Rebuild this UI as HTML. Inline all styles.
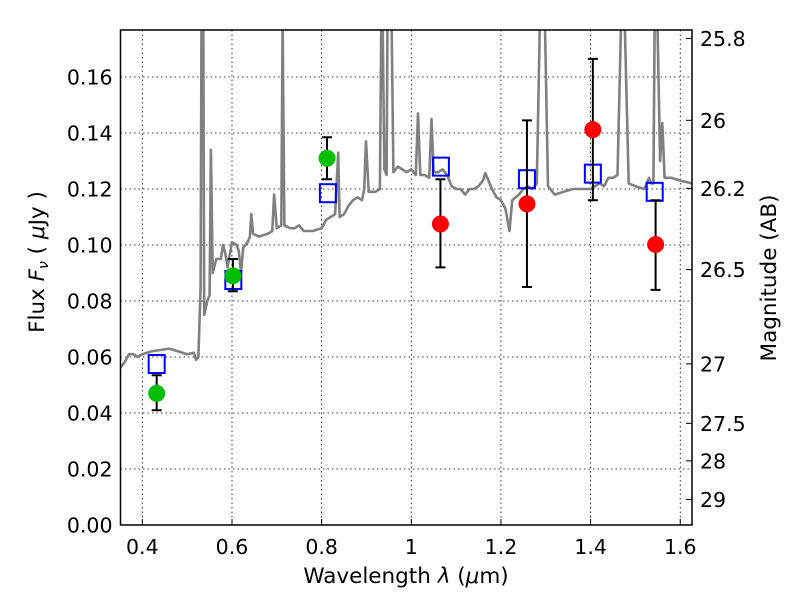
<!DOCTYPE html>
<html><head><meta charset="utf-8"><style>
body{margin:0;background:#fff;}
svg{font-family:"DejaVu Sans","Liberation Sans",sans-serif;}
</style></head><body>
<svg id="chart" width="800" height="600" viewBox="0 0 800 600">
<defs><clipPath id="clip"><rect x="120.5" y="30" width="571.5" height="495"/></clipPath></defs>
<g id="grid"></g>
<g id="spec" clip-path="url(#clip)"></g>
<g id="marks"></g>
<rect x="120.5" y="30" width="571.5" height="495" fill="none" stroke="#000" stroke-width="1.5"/>
<g id="axes" font-size="20.5"></g>
<text x="406" y="583" font-size="21.5" text-anchor="middle">Wavelength  <tspan font-style="italic">λ</tspan> (<tspan font-style="italic">μ</tspan>m)</text>
<text transform="translate(44,262) rotate(-90)" font-size="21.5" text-anchor="middle">Flux  <tspan font-style="italic">F<tspan font-size="14" dy="4">ν</tspan></tspan><tspan dy="-4">  ( </tspan><tspan font-style="italic">μ</tspan>Jy )</text>
<text transform="translate(776,278) rotate(-90)" font-size="21.5" text-anchor="middle">Magnitude (AB)</text>
</svg>
<script>
const specWave=[0.35,0.36,0.37,0.38,0.39,0.40,0.42,0.44,0.46,0.48,0.50,0.515,0.52,0.525,0.53,0.532,0.536,0.538,0.545,0.55,0.553,0.557,0.565,0.575,0.58,0.585,0.59,0.60,0.61,0.615,0.62,0.625,0.635,0.64,0.643,0.647,0.66,0.68,0.69,0.694,0.70,0.71,0.713,0.717,0.73,0.74,0.75,0.76,0.78,0.80,0.81,0.82,0.83,0.837,0.84,0.85,0.86,0.87,0.88,0.89,0.895,0.899,0.905,0.92,0.93,0.933,0.936,0.94,0.945,0.947,0.951,0.956,0.96,0.97,0.98,0.99,1.0,1.01,1.015,1.02,1.03,1.04,1.045,1.05,1.06,1.07,1.08,1.09,1.10,1.11,1.12,1.13,1.14,1.15,1.16,1.165,1.18,1.19,1.20,1.21,1.219,1.225,1.24,1.25,1.26,1.27,1.28,1.287,1.298,1.305,1.32,1.34,1.36,1.38,1.40,1.42,1.43,1.44,1.45,1.46,1.468,1.476,1.485,1.50,1.52,1.53,1.535,1.54,1.543,1.549,1.555,1.56,1.565,1.58,1.60,1.626];
const specFlux=[0.056,0.058,0.061,0.061,0.060,0.061,0.062,0.0625,0.063,0.062,0.061,0.0615,0.059,0.060,0.085,0.18,0.18,0.075,0.080,0.082,0.134,0.09,0.095,0.095,0.100,0.097,0.092,0.101,0.100,0.098,0.090,0.099,0.101,0.103,0.111,0.104,0.103,0.104,0.105,0.118,0.106,0.107,0.18,0.107,0.106,0.106,0.107,0.105,0.105,0.106,0.109,0.110,0.111,0.133,0.110,0.111,0.114,0.116,0.117,0.116,0.120,0.137,0.119,0.119,0.120,0.18,0.18,0.127,0.125,0.18,0.18,0.18,0.126,0.128,0.127,0.126,0.127,0.125,0.147,0.125,0.125,0.124,0.145,0.126,0.126,0.127,0.125,0.121,0.120,0.120,0.118,0.120,0.120,0.121,0.123,0.1257,0.120,0.117,0.116,0.113,0.105,0.116,0.118,0.120,0.121,0.120,0.122,0.18,0.18,0.121,0.118,0.119,0.120,0.120,0.120,0.122,0.121,0.124,0.124,0.125,0.18,0.18,0.122,0.121,0.120,0.124,0.122,0.122,0.18,0.18,0.130,0.1436,0.124,0.124,0.123,0.122];
const greenWave=[0.432,0.602,0.812];
const greenFlux=[0.047,0.089,0.131];
const greenLo=[0.041,0.0835,0.1235];
const greenHi=[0.0535,0.095,0.1385];
const redWave=[1.065,1.258,1.405,1.545];
const redFlux=[0.1075,0.1147,0.1412,0.1002];
const redLo=[0.092,0.085,0.116,0.084];
const redHi=[0.1235,0.1445,0.1665,0.116];
const modelWave=[0.432,0.603,0.814,1.066,1.258,1.405,1.543];
const modelFlux=[0.0575,0.0875,0.1185,0.128,0.1235,0.1255,0.119];
const xTicks=[0.4,0.6,0.8,1.0,1.2,1.4,1.6];
const xTickLabels=["0.4","0.6","0.8","1","1.2","1.4","1.6"];
const yTicks=[0,0.02,0.04,0.06,0.08,0.10,0.12,0.14,0.16];
const yTickLabels=["0.00","0.02","0.04","0.06","0.08","0.10","0.12","0.14","0.16"];
const magTicks=[25.8,26,26.2,26.5,27,27.5,28,29];
const magTickLabels=["25.8","26","26.2","26.5","27","27.5","28","29"];

const NS="http://www.w3.org/2000/svg";
const X0=120.5,X1=692,Y0=525,Y1=30,XMIN=0.3513,XMAX=1.6262,YMIN=0,YMAX=0.1768;
function sx(v){return X0+(v-XMIN)/(XMAX-XMIN)*(X1-X0);}
function sy(v){return Y0-(v-YMIN)/(YMAX-YMIN)*(Y0-Y1);}
function mk(tag,attrs,parent){const e=document.createElementNS(NS,tag);for(const k in attrs)e.setAttribute(k,attrs[k]);parent.appendChild(e);return e;}
const grid=document.getElementById('grid'),spec=document.getElementById('spec'),marks=document.getElementById('marks'),axes=document.getElementById('axes');

xTicks.forEach((t,i)=>{
  const l=mk('line',{x1:sx(t),x2:sx(t),y1:Y1,y2:Y0,stroke:'#000','stroke-width':0.8,'stroke-dasharray':'1.5,3'},grid);
  
  
  const tk=mk('line',{x1:sx(t),x2:sx(t),y1:Y0,y2:Y0-6,stroke:'#000'},axes);
  
  
  const tx=mk('text',{x:sx(t),y:Y0+29,'text-anchor':'middle'},axes);tx.textContent=xTickLabels[i];
  
  
});
yTicks.forEach((t,i)=>{
  const l=mk('line',{x1:X0,x2:X1,y1:sy(t),y2:sy(t),stroke:'#000','stroke-width':0.8,'stroke-dasharray':'1.5,3'},grid);
  
  
  const tx=mk('text',{x:X0-8,y:sy(t)+7.5,'text-anchor':'end'},axes);tx.textContent=yTickLabels[i];
  
  
});
magTicks.forEach((m,i)=>{
  const f=Math.pow(10,(23.9-m)/2.5);
  const tk=mk('line',{x1:X1,x2:X1-6,y1:sy(f),y2:sy(f),stroke:'#000'},axes);
  
  
  const tx=mk('text',{x:X1+8,y:sy(f)+7.5},axes);tx.textContent=magTickLabels[i];
  
  
});
const pts=specWave.map((w,i)=>sx(w).toFixed(1)+','+sy(specFlux[i]).toFixed(1)).join(' ');
const pl=mk('polyline',{points:pts,fill:'none',stroke:'#808080','stroke-width':2.6,'stroke-linejoin':'round'},spec);



modelWave.forEach((w,i)=>{
  const r=mk('rect',{x:sx(w)-8,y:sy(modelFlux[i])-9,width:16,height:18,fill:'none',stroke:'#0000ff','stroke-width':2},marks);
  
  
});
function obs(wv,fl,lo,hi,color,name){
  wv.forEach((w,i)=>{
    const x=sx(w);
    const e=mk('path',{d:`M${x},${sy(lo[i])}V${sy(hi[i])}M${x-5},${sy(lo[i])}H${x+5}M${x-5},${sy(hi[i])}H${x+5}`,stroke:'#000','stroke-width':2,fill:'none'},marks);
    
    
    const c=mk('circle',{cx:x,cy:sy(fl[i]),r:8.5,fill:color},marks);
    
    
  });
}
obs(greenWave,greenFlux,greenLo,greenHi,'#00bf00','optical-flux-point');
obs(redWave,redFlux,redLo,redHi,'#ff0000','nir-flux-point');
</script>
</body></html>
